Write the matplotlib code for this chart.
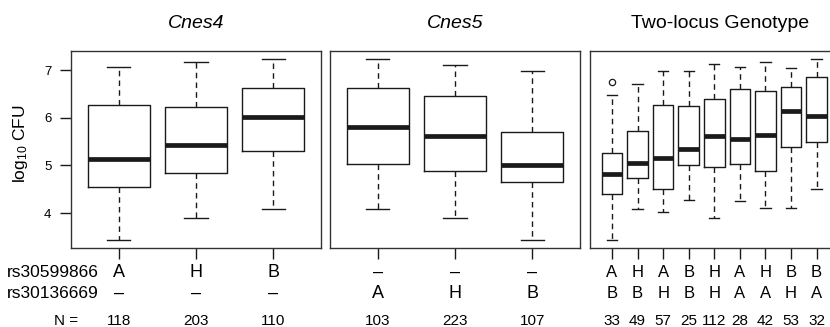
import matplotlib.pyplot as plt
from matplotlib import transforms

plt.rcParams['font.family'] = ['Liberation Sans', 'DejaVu Sans']
plt.rcParams['mathtext.default'] = 'regular'

# values (log10 CFU)
# order of each box: low whisker, Q1, median, Q3, high whisker
cnes4_geno = ['A', 'H', 'B']
cnes4_n = [118, 203, 110]
cnes4_lo = [3.43, 3.89, 4.08]
cnes4_q1 = [4.54, 4.84, 5.30]
cnes4_med = [5.13, 5.42, 6.01]
cnes4_q3 = [6.26, 6.23, 6.63]
cnes4_hi = [7.06, 7.17, 7.24]

cnes5_geno = ['A', 'H', 'B']
cnes5_n = [103, 223, 107]
cnes5_lo = [4.09, 3.89, 3.43]
cnes5_q1 = [5.04, 4.89, 4.66]
cnes5_med = [5.80, 5.61, 5.01]
cnes5_q3 = [6.63, 6.45, 5.71]
cnes5_hi = [7.24, 7.11, 6.99]

two_rs1 = ['A', 'H', 'A', 'B', 'H', 'A', 'H', 'B', 'B']
two_rs2 = ['B', 'B', 'H', 'B', 'H', 'A', 'A', 'H', 'A']
two_n = [33, 49, 57, 25, 112, 28, 42, 53, 32]
two_lo = [3.44, 4.09, 4.03, 4.28, 3.90, 4.26, 4.10, 4.10, 4.50]
two_q1 = [4.40, 4.73, 4.50, 5.00, 4.97, 5.03, 4.88, 5.39, 5.49]
two_med = [4.83, 5.06, 5.15, 5.35, 5.61, 5.56, 5.64, 6.14, 6.04]
two_q3 = [5.26, 5.72, 6.27, 6.24, 6.39, 6.60, 6.57, 6.64, 6.85]
two_hi = [6.47, 6.70, 6.98, 6.99, 7.12, 7.07, 7.17, 7.05, 7.24]
two_out = [[6.76], [], [], [], [], [], [], [], []]

W, H = 830, 327
INK = '#1a1a1a'


def make_stats(lo, q1, med, q3, hi, out=None):
    res = []
    for i in range(len(med)):
        res.append(dict(whislo=lo[i], q1=q1[i], med=med[i], q3=q3[i],
                        whishi=hi[i], fliers=out[i] if out else []))
    return res


def px(x0, x1):
    # axes rectangle from pixel columns; rows are shared
    return [x0 / W, 1 - 248 / H, (x1 - x0) / W, 197 / H]


fig = plt.figure(figsize=(W / 100, H / 100), dpi=100)
ax1 = fig.add_axes(px(71, 321))
ax2 = fig.add_axes(px(330, 580))
ax3 = fig.add_axes(px(590, 838.6))

panels = [
    (ax1, make_stats(cnes4_lo, cnes4_q1, cnes4_med, cnes4_q3, cnes4_hi), 0.30),
    (ax2, make_stats(cnes5_lo, cnes5_q1, cnes5_med, cnes5_q3, cnes5_hi), 0.30),
    (ax3, make_stats(two_lo, two_q1, two_med, two_q3, two_hi, two_out), 0.40),
]

for ax, st, capw in panels:
    n = len(st)
    ax.bxp(st, widths=0.8, capwidths=capw,
           boxprops=dict(color=INK, lw=1.0),
           medianprops=dict(color=INK, lw=3.4, solid_capstyle='butt'),
           whiskerprops=dict(color=INK, lw=1.0, linestyle=(0, (4, 3))),
           capprops=dict(color=INK, lw=1.0),
           flierprops=dict(marker='o', mfc='none', mec=INK, ms=4.5, mew=0.9))
    ax.set_xlim(0.5 - 0.04 * n, n + 0.5 + 0.04 * n)
    ax.set_ylim(3.27, 7.40)
    ax.set_xticks(range(1, n + 1))
    ax.set_xticklabels([])
    ax.tick_params(axis='x', length=8, width=1, color=INK)
    for s in ax.spines.values():
        s.set_color('#333333')
        s.set_linewidth(1.0)

ax1.set_yticks([4, 5, 6, 7])
ax1.tick_params(axis='y', length=8, width=1, pad=6, labelsize=9.5, color=INK)
for ax in (ax2, ax3):
    ax.tick_params(axis='y', left=False, labelleft=False)

fig.text(20 / W, 1 - 144 / H, 'log$_{10}$ CFU', rotation=90,
         ha='center', va='center', fontsize=12.5)

# titles
fig.text(196 / W, 1 - 28 / H, 'Cnes4', style='italic', ha='center',
         va='baseline', fontsize=14)
fig.text(455 / W, 1 - 28 / H, 'Cnes5', style='italic', ha='center',
         va='baseline', fontsize=14)
fig.text(720 / W, 1 - 28 / H, 'Two-locus Genotype', ha='center',
         va='baseline', fontsize=14)

# genotype rows under the panels
y_r1 = 1 - 277 / H
y_r2 = 1 - 298 / H
y_n = 1 - 325 / H
fig.text(7 / W, y_r1, 'rs30599866', ha='left', va='baseline', fontsize=12.5)
fig.text(7 / W, y_r2, 'rs30136669', ha='left', va='baseline', fontsize=12.5)
fig.text(78 / W, y_n, 'N =', ha='right', va='baseline', fontsize=11)

rows = [
    (ax1, cnes4_geno, ['–'] * 3, cnes4_n, 13),
    (ax2, ['–'] * 3, cnes5_geno, cnes5_n, 13),
    (ax3, two_rs1, two_rs2, two_n, 12),
]
for ax, r1, r2, nn, fs in rows:
    tr = transforms.blended_transform_factory(ax.transData, fig.transFigure)
    for i in range(len(nn)):
        x = i + 1
        ax.text(x, y_r1, r1[i], transform=tr, ha='center', va='baseline',
                fontsize=fs, clip_on=False)
        ax.text(x, y_r2, r2[i], transform=tr, ha='center', va='baseline',
                fontsize=fs, clip_on=False)
        ax.text(x, y_n, str(nn[i]), transform=tr, ha='center', va='baseline',
                fontsize=11, clip_on=False)

fig.savefig('out.png', dpi=100)
